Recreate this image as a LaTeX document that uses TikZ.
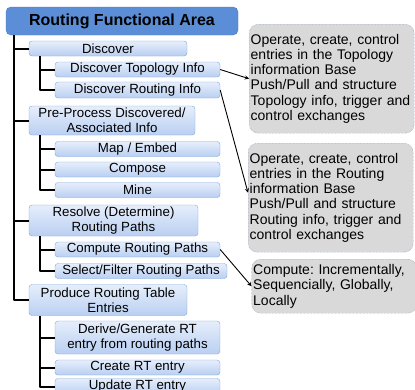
\documentclass[tikz,border=0pt]{standalone}
\usepackage{fontspec}
\setmainfont{Liberation Sans}
\frenchspacing
\definecolor{areafill}{HTML}{5B8ED6}
\definecolor{arealine}{HTML}{4677C0}
\definecolor{boxtop}{HTML}{E6EEFB}
\definecolor{boxbot}{HTML}{B9CFF2}
\definecolor{boxline}{HTML}{7FA5DC}
\definecolor{notefill}{HTML}{D9D9D9}
\definecolor{noteline}{HTML}{6E87B0}
\begin{document}
\begin{tikzpicture}[x=1pt, y=-1pt, line join=round, >=stealth,
  areabox/.style={draw=arealine, fill=areafill, rounded corners=5pt, inner sep=0pt,
    font=\fontsize{16}{18}\selectfont\bfseries},
  taskbox/.style={draw=boxline, top color=boxtop, bottom color=boxbot, rounded corners=3pt,
    inner sep=0pt, align=center, font=\fontsize{13.3}{15}\selectfont},
  notebox/.style={draw=noteline, densely dotted, fill=notefill, rounded corners=9pt,
    inner xsep=1.5pt, inner ysep=0pt, text width=162pt, align=left, anchor=north west,
    font=\fontsize{14}{15.3}\selectfont},
  tree/.style={line width=2pt},
  link/.style={->, line width=0.9pt}]
  \useasboundingbox (0,0) rectangle (415,389);

  % title
  \node[areabox, minimum width=232pt, minimum height=28pt] (area) at (122,21) {Routing Functional Area};

  % first level
  \node[taskbox, minimum width=158pt, minimum height=15pt] (discover) at (108,48.5) {Discover};
  \node[taskbox, minimum width=166pt, minimum height=29pt] (preproc) at (112,120.5) {Pre-Process Discovered/\\Associated Info};
  \node[taskbox, minimum width=169pt, minimum height=31pt] (resolve) at (113.5,220.5) {Resolve (Determine)\\Routing Paths};
  \node[taskbox, minimum width=158pt, minimum height=31pt] (produce) at (108,300) {Produce Routing Table\\Entries};

  % second level
  \node[taskbox, minimum width=165pt, minimum height=15pt] (dtopo) at (137.5,69.5) {Discover Topology Info};
  \node[taskbox, minimum width=165pt, minimum height=16pt] (drout) at (137.5,90) {Discover Routing Info};
  \node[taskbox, minimum width=165pt, minimum height=15pt] (map) at (137.5,149) {Map / Embed};
  \node[taskbox, minimum width=165pt, minimum height=15pt] (compose) at (137.5,169.5) {Compose};
  \node[taskbox, minimum width=165pt, minimum height=15pt] (mine) at (137.5,190) {Mine};
  \node[taskbox, minimum width=165pt, minimum height=15pt] (compute) at (137.5,249.5) {Compute Routing Paths};
  \node[taskbox, minimum width=172pt, minimum height=15pt] (select) at (141,271) {Select/Filter Routing Paths};
  \node[taskbox, minimum width=165pt, minimum height=33pt] (derive) at (137.5,337.5) {Derive/Generate RT\\entry from routing paths};
  \node[taskbox, minimum width=165pt, minimum height=15pt] (create) at (137.5,367.5) {Create RT entry};
  \node[taskbox, minimum width=165pt, minimum height=16pt] (update) at (137.5,386.5) {Update RT entry};

  % tree lines
  \draw[tree] ([xshift=8pt]area.south west) |- (produce.west);
  \foreach \n in {discover,preproc,resolve}
    \draw[tree] (\n.west) -- ++(-15,0);
  \draw[tree] ([xshift=11pt]discover.south west) |- (drout.west);
  \draw[tree] ([xshift=11pt]preproc.south west) |- (mine.west);
  \draw[tree] ([xshift=11pt]resolve.south west) |- (select.west);
  \draw[tree] ([xshift=11pt]produce.south west) |- (update.west);
  \foreach \n in {dtopo,map,compose,compute,derive,create}
    \draw[tree] (\n.west) -- ++(-15,0);

  % notes
  \node[notebox, minimum height=109pt] (topobase) at (249,24) {Operate, create, control\\entries in the Topology\\information Base\\Push/Pull and structure\\Topology info, trigger and\\control exchanges};
  \node[notebox, minimum height=109pt] (routbase) at (248,143) {Operate, create, control\\entries in the Routing\\information Base\\Push/Pull and structure\\Routing info, trigger and\\control exchanges};
  \node[notebox, minimum height=54pt] (computenote) at (251.5,259) {Compute: Incrementally,\\Sequencially, Globally,\\Locally};

  \draw[link] (dtopo.east) -- (topobase.west);
  \draw[link] (drout.east) -- ([yshift=5pt]routbase.west);
  \draw[link] (compute.east) -- (computenote.west);
\end{tikzpicture}
\end{document}
